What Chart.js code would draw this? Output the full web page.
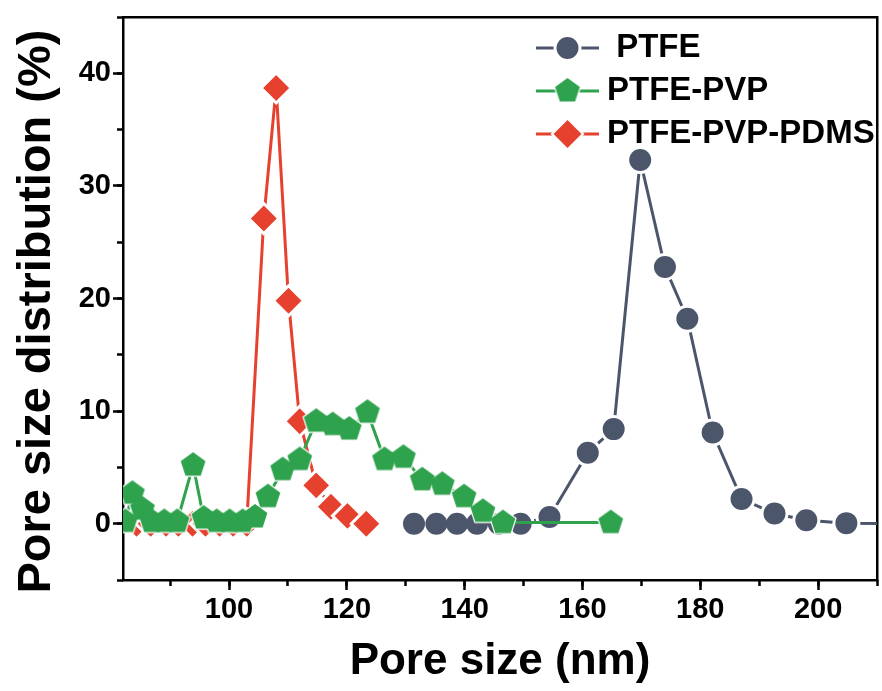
<!DOCTYPE html>
<html>
<head>
<meta charset="utf-8">
<title>Pore size distribution</title>
<script src="https://cdn.jsdelivr.net/npm/chart.js"></script>
<style>
  body { margin: 0; background: #fff; }
  canvas { display: block; }
</style>
</head>
<body>
<canvas id="poreChart" width="882" height="691"></canvas>
<script>
// values: pore size (nm) / distribution (%)
var ptfeSize = [131.4, 135.2, 138.7, 142.1, 145.8, 149.5, 154.4, 160.9, 165.3, 169.8, 174.0, 177.8, 182.1, 187.0, 192.6, 198.0, 204.8, 213.0];
var ptfeDist = [0, 0, 0, 0, 0, 0, 0.6, 6.3, 8.4, 32.3, 22.8, 18.2, 8.1, 2.2, 0.9, 0.3, 0.05, 0];

var pvpSize = [82.4, 83.6, 85.3, 86.9, 89.0, 91.2, 93.9, 95.7, 97.9, 100.1, 102.3, 104.4, 106.6, 109.1, 112.0, 114.8, 117.6, 120.4, 123.5, 126.4, 129.6, 132.8, 136.2, 139.9, 143.1, 146.5, 164.8];
var pvpDist = [0.2, 2.7, 1.3, 0.2, 0.2, 0.2, 5.2, 0.5, 0.2, 0.2, 0.2, 0.6, 2.4, 4.8, 5.7, 9.1, 8.8, 8.4, 9.9, 5.7, 5.9, 3.9, 3.5, 2.4, 1.1, 0.1, 0.1];

var pdmsSize = [84.3, 86.7, 89.3, 91.4, 93.8, 96.0, 98.4, 100.7, 103.0, 105.9, 108.0, 110.1, 112.0, 114.8, 117.3, 120.1, 123.3];
var pdmsDist = [0, 0, 0, 0, 0, 0, 0, 0, 0, 27.1, 38.7, 19.8, 9.1, 3.4, 1.5, 0.7, 0];

var seriesNames = [' PTFE', 'PTFE-PVP', 'PTFE-PVP-PDMS'];

var xTicks = [100, 120, 140, 160, 180, 200];
var xMinorTicks = [90, 100, 110, 120, 130, 140, 150, 160, 170, 180, 190, 200, 210];
var yTicks = [0, 10, 20, 30, 40];
var yMinorTicks = [-5, 0, 5, 10, 15, 20, 25, 30, 35, 40, 45];

var GRAY = '#4c566b', GREEN = '#2fa24e', RED = '#e6412f';
var FONT = "'Liberation Sans', Arial, sans-serif";

function toPoints(xs, ys) {
    return xs.map(function (x, i) { return { x: x, y: ys[i] }; });
}

// Chart.js has no pentagon, so make one as an image point style
function pentagon(r, color) {
    var size = Math.ceil(r) * 2 + 2;
    var c = document.createElement('canvas');
    c.width = size;
    c.height = size;
    var g = c.getContext('2d');
    g.fillStyle = color;
    g.beginPath();
    for (var i = 0; i < 5; i++) {
        var a = -Math.PI / 2 + i * 2 * Math.PI / 5;
        var px = size / 2 + r * Math.cos(a), py = size / 2 + r * Math.sin(a);
        if (i) g.lineTo(px, py); else g.moveTo(px, py);
    }
    g.closePath();
    g.fill();
    return c;
}
var greenPent = pentagon(13, GREEN);
var haloPent = pentagon(14.5, '#fff');

// line dataset: draws the line plus white halos (the gap around markers)
function lineSet(label, data, color, style, haloR, order) {
    return {
        label: label, data: data, showLine: true, tension: 0,
        borderColor: color, borderWidth: 3,
        pointStyle: style, pointRadius: haloR, pointHoverRadius: haloR,
        pointBackgroundColor: '#fff', pointBorderWidth: 0, order: order
    };
}
function markSet(label, data, color, style, r, order, ring) {
    return {
        label: label, data: data, showLine: false,
        pointStyle: style, pointRadius: r, pointHoverRadius: r,
        pointBackgroundColor: color, backgroundColor: color,
        pointBorderColor: '#fff', pointBorderWidth: ring || 0, order: order
    };
}

var ptfeData = toPoints(ptfeSize, ptfeDist);
var pvpData = toPoints(pvpSize, pvpDist);
var pdmsData = toPoints(pdmsSize, pdmsDist);

var legendIcons = [
    { color: GRAY, style: 'circle', r: 11 },
    { color: GREEN, style: 'pent', r: 13 },
    { color: RED, style: 'diamond', r: 14 }
];

function drawMarker(ctx, icon, x, y, halo) {
    ctx.fillStyle = halo ? '#fff' : icon.color;
    var r = icon.r + (halo ? 3 : 0);
    if (icon.style === 'pent') {
        var img = halo ? haloPent : greenPent;
        ctx.drawImage(img, x - img.width / 2, y - img.height / 2);
        return;
    }
    ctx.beginPath();
    if (icon.style === 'circle') {
        ctx.arc(x, y, r, 0, Math.PI * 2);
    } else {
        ctx.moveTo(x, y - r); ctx.lineTo(x + r, y); ctx.lineTo(x, y + r); ctx.lineTo(x - r, y);
        ctx.closePath();
    }
    ctx.fill();
}

var insideLegend = {
    id: 'insideLegend',
    afterDraw: function (chart) {
        var ctx = chart.ctx;
        ctx.save();
        seriesNames.forEach(function (name, i) {
            var y = 48 + i * 43;
            var icon = legendIcons[i];
            ctx.strokeStyle = icon.color;
            ctx.lineWidth = 3;
            ctx.beginPath();
            ctx.moveTo(536, y);
            ctx.lineTo(599, y);
            ctx.stroke();
            drawMarker(ctx, icon, 567.5, y, true);
            drawMarker(ctx, icon, 567.5, y, false);
            ctx.fillStyle = '#000';
            ctx.font = 'bold 33px ' + FONT;
            ctx.textBaseline = 'middle';
            ctx.textAlign = 'left';
            ctx.fillText(name, 607, y);
        });
        ctx.restore();
    }
};

function setTicks(values) {
    return function (scale) {
        scale.ticks = values.map(function (v) { return { value: v }; });
    };
}
// fixed axis sizes, no extra label padding eating into the plot
function fixHeight(h) {
    return function (s) { s.height = h; s.paddingLeft = 0; s.paddingRight = 0; };
}
function fixWidth(w) {
    return function (s) { s.width = w; s.paddingTop = 0; s.paddingBottom = 0; };
}

var tickFont = { family: FONT, size: 29, weight: 'bold' };

new Chart(document.getElementById('poreChart'), {
    type: 'scatter',
    data: {
        datasets: [
            lineSet(seriesNames[0], ptfeData, GRAY, 'circle', 14, 6),
            markSet(seriesNames[0], ptfeData, GRAY, 'circle', 11, 5),
            lineSet(seriesNames[2], pdmsData, RED, 'rectRot', 16, 4),
            markSet(seriesNames[2], pdmsData, RED, 'rectRot', 15, 3, 3),
            lineSet(seriesNames[1], pvpData, GREEN, haloPent, 14.5, 2),
            markSet(seriesNames[1], pvpData, GREEN, greenPent, 13, 1)
        ]
    },
    options: {
        responsive: false,
        animation: false,
        events: [],
        layout: { autoPadding: false, padding: { top: 17, right: 5, left: 0, bottom: 0 } },
        plugins: {
            legend: { display: false },
            tooltip: { enabled: false }
        },
        scales: {
            x: {
                type: 'linear', position: 'bottom', min: 82, max: 210, weight: 1,
                afterBuildTicks: setTicks(xTicks),
                afterFit: fixHeight(111),
                grid: { drawOnChartArea: false, tickLength: 10, tickColor: '#000', tickWidth: 2.5 },
                border: { color: '#000', width: 2.5 },
                ticks: { color: '#000', font: tickFont, padding: 3, autoSkip: false, maxRotation: 0 },
                title: {
                    display: true, text: 'Pore size (nm)', color: '#000',
                    font: { family: FONT, size: 44, weight: 'bold' }, padding: { bottom: 3 }
                }
            },
            xMinor: {
                type: 'linear', axis: 'x', position: 'bottom', min: 82, max: 210, weight: 0,
                afterBuildTicks: setTicks(xMinorTicks),
                afterFit: fixHeight(0),
                grid: { drawOnChartArea: false, tickLength: 6, tickColor: '#000', tickWidth: 2.5 },
                border: { display: false },
                ticks: { display: false }
            },
            xTop: {
                type: 'linear', axis: 'x', position: 'top', min: 82, max: 210,
                afterFit: fixHeight(0),
                grid: { display: false },
                border: { color: '#000', width: 2.5 },
                ticks: { display: false }
            },
            y: {
                type: 'linear', position: 'left', min: -5, max: 45, weight: 1,
                afterBuildTicks: setTicks(yTicks),
                afterFit: fixWidth(123),
                grid: { drawOnChartArea: false, tickLength: 10, tickColor: '#000', tickWidth: 2.5 },
                border: { color: '#000', width: 2.5 },
                ticks: { color: '#000', font: tickFont, padding: 2 },
                title: {
                    display: true, text: 'Pore size distribution (%)  ', color: '#000',
                    font: { family: FONT, size: 47, weight: 'bold' }, padding: { top: 9 }
                }
            },
            yMinor: {
                type: 'linear', axis: 'y', position: 'left', min: -5, max: 45, weight: 0,
                afterBuildTicks: setTicks(yMinorTicks),
                afterFit: fixWidth(0),
                grid: { drawOnChartArea: false, tickLength: 6, tickColor: '#000', tickWidth: 2.5 },
                border: { display: false },
                ticks: { display: false }
            },
            yRight: {
                type: 'linear', axis: 'y', position: 'right', min: -5, max: 45,
                afterFit: fixWidth(0),
                grid: { display: false },
                border: { color: '#000', width: 2.5 },
                ticks: { display: false }
            }
        }
    },
    plugins: [insideLegend]
});
</script>
</body>
</html>
